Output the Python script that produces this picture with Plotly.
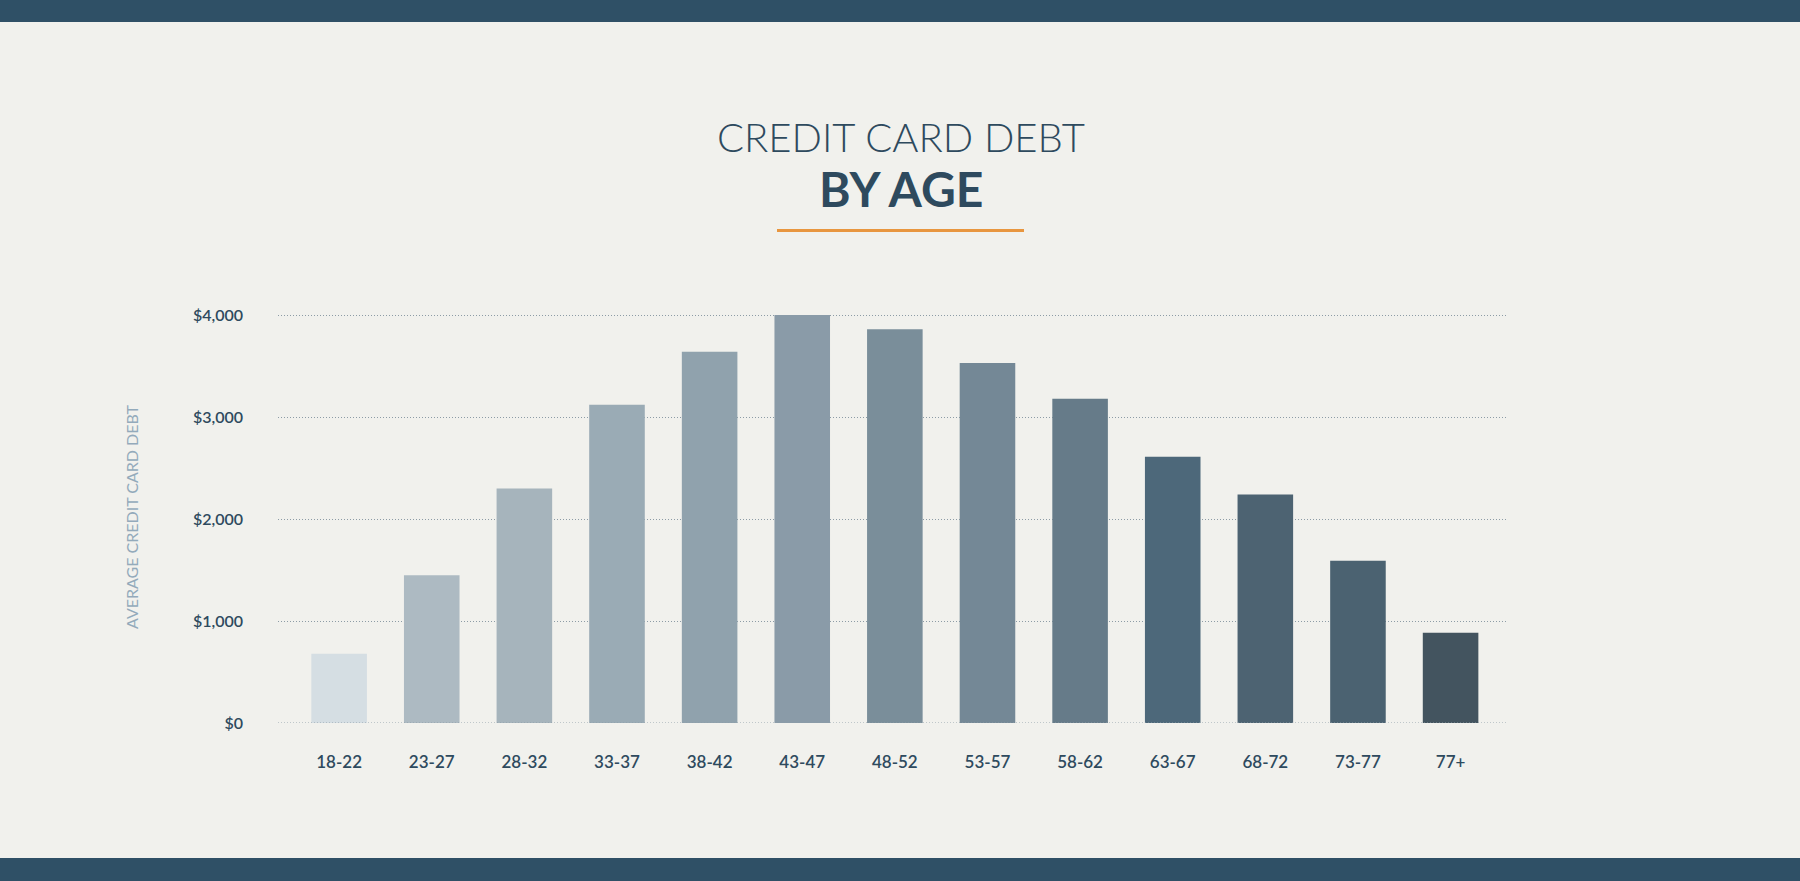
import plotly.graph_objects as go

# data
age_groups = ["18-22", "23-27", "28-32", "33-37", "38-42", "43-47", "48-52",
              "53-57", "58-62", "63-67", "68-72", "73-77", "77+"]
avg_debt = [680, 1450, 2300, 3120, 3640, 4000, 3860, 3530, 3180, 2610, 2240, 1590, 885]
bar_colors = ["#d5dee3", "#adbac2", "#a6b4bc", "#9aabb5", "#90a2ad", "#8a9ba8", "#7a8e9a",
              "#748896", "#667b89", "#4d687a", "#4d6372", "#4b6271", "#43545f"]
y_ticks = [0, 1000, 2000, 3000, 4000]
y_tick_labels = ["$0", "$1,000", "$2,000", "$3,000", "$4,000"]

W, H = 1800, 881
L, R, T, B = 278, 292, 311, 158
PLOT_H = H - T - B
PLOT_W = W - L - R

navy = "#2f5066"
text_col = "#2e4a5e"
grid_col = "#8d9ca6"
bg = "#f1f1ed"


def py(y):
    # pixel row -> paper y
    return (H - B - y) / PLOT_H


def px(x):
    return (x - L) / PLOT_W


fig = go.Figure(go.Bar(
    x=age_groups,
    y=avg_debt,
    marker_color=bar_colors,
    marker_line_width=0,
    width=0.6,
    hovertemplate="%{x}: $%{y:,}<extra></extra>",
))

fig.update_layout(
    width=W, height=H,
    margin=dict(l=L, r=R, t=T, b=B),
    paper_bgcolor=bg,
    plot_bgcolor=bg,
    showlegend=False,
    font=dict(family="Lato", color=text_col),
    xaxis=dict(
        range=[-0.66, 12.62],
        showgrid=False, zeroline=False, showline=False,
        tickfont=dict(size=17, weight=600, color=text_col),
        ticklabelstandoff=27,
    ),
    yaxis=dict(
        range=[0, 4040],
        tickvals=y_ticks, ticktext=y_tick_labels,
        showgrid=True, gridcolor=grid_col, griddash="1px,2px", gridwidth=1,
        zeroline=False, showline=False,
        tickfont=dict(size=16, weight=600, color=text_col),
        ticklabelstandoff=34,
        title=dict(text="AVERAGE CREDIT CARD DEBT",
                   font=dict(size=16, color="#93aabb", weight=400),
                   standoff=50),
    ),
)

# dotted baseline at $0 drawn above the bars
fig.add_shape(type="line", xref="paper", yref="y", x0=0, x1=1, y0=0, y1=0,
              line=dict(color=grid_col, width=1, dash="1px,2px"), layer="above")

# top and bottom bands
fig.add_shape(type="rect", xref="paper", yref="paper", x0=px(0), x1=px(W),
              y0=py(22), y1=py(0), fillcolor=navy, line_width=0, layer="below")
fig.add_shape(type="rect", xref="paper", yref="paper", x0=px(0), x1=px(W),
              y0=py(H), y1=py(858), fillcolor=navy, line_width=0, layer="below")

# orange rule under the title
fig.add_shape(type="line", xref="paper", yref="paper", x0=px(777), x1=px(1024),
              y0=py(230.5), y1=py(230.5), line=dict(color="#e8963f", width=3))

fig.add_annotation(text="CREDIT CARD DEBT", xref="paper", yref="paper",
                   x=px(901), y=py(137), xanchor="center", yanchor="middle",
                   showarrow=False,
                   font=dict(family="Lato", size=40, weight=300, color=text_col))
fig.add_annotation(text="BY AGE", xref="paper", yref="paper",
                   x=px(901), y=py(189), xanchor="center", yanchor="middle",
                   showarrow=False,
                   font=dict(family="Lato", size=48, weight=700, color=text_col))

# page has a default body margin; drop it so the figure fills the window
fig.write_html("out.html", config={"displayModeBar": False},
               post_script="document.body.style.margin='0';"
                           "document.body.style.overflow='hidden';")
